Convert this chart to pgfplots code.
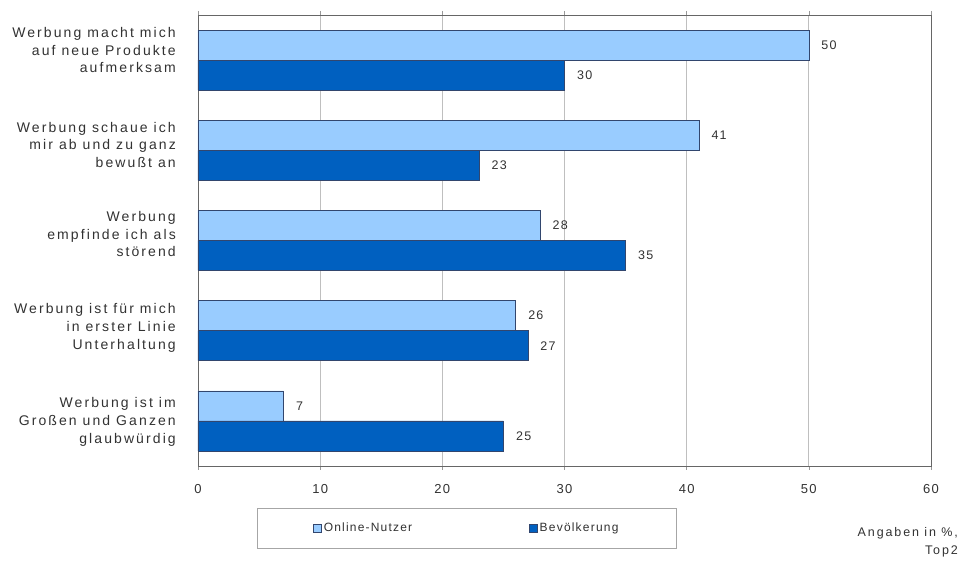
\documentclass[border=0pt]{standalone}
\usepackage{pgfplots}
\pgfplotsset{compat=1.18}
\usepackage{fontspec}
\setmainfont{Liberation Sans}[LetterSpace=10]
\newfontfamily\catfont{Liberation Sans}[LetterSpace=15]
\definecolor{lightb}{RGB}{153,204,255}
\definecolor{darkb}{RGB}{0,96,192}
\definecolor{edgeb}{RGB}{50,70,110}
\definecolor{txt}{RGB}{50,50,50}
\begin{document}
\begin{tikzpicture}[x=1pt,y=1pt]
\path[use as bounding box] (0,0) rectangle (962,567);
\begin{axis}[
  at={(198pt,101pt)}, anchor=south west,
  scale only axis, width=733pt, height=451pt,
  xbar, bar width=30pt,
  xmin=0, xmax=60, ymin=0.5, ymax=5.5,
  xtick={0,10,...,60},
  ytick={0.99,2.03,3.07,4.06,5.11},
  yticklabels={
    {Werbung ist im\\Großen und Ganzen\\glaubwürdig},
    {Werbung ist für mich\\in erster Linie\\Unterhaltung},
    {Werbung\\empfinde ich als\\störend},
    {Werbung schaue ich\\mir ab und zu ganz\\bewußt an},
    {Werbung macht mich\\auf neue Produkte\\aufmerksam}},
  yticklabel style={align=right, font=\catfont\fontsize{14}{17.8}\selectfont, text=txt, inner sep=0pt, xshift=-18pt},
  xticklabel style={font=\fontsize{13}{15}\selectfont, text=txt, yshift=-11pt},
  /pgf/number format/assume math mode=true,
  ytick style={draw=none},
  xtick style={draw=gray!80, thin},
  tick align=outside, major tick length=4pt,
  xmajorgrids, grid style={draw=gray!50, line width=0.8pt},
  axis line style={draw=gray!80!black, line width=0.9pt},
  nodes near coords,
  every node near coord/.append style={font=\fontsize{12.5}{14}\selectfont, text=txt, xshift=9pt},
  legend columns=2,
  legend style={at={(rel axis cs:0,0)}, anchor=north west, xshift=59pt, yshift=-42pt,
    draw=gray!70, line width=0.6pt, font=\fontsize{12}{14}\selectfont, text=txt,
    inner xsep=56pt, inner ysep=13pt,
    /tikz/every even column/.append style={column sep=115pt}},
  legend image code/.code={\draw[#1, line width=0.5pt] (1pt,-4pt) rectangle (9pt,4pt);},
]
\addplot[fill=lightb, draw=edgeb, line width=0.6pt, bar shift=15pt] coordinates {(7,1) (26,2) (28,3) (41,4) (50,5)};
\addplot[fill=darkb, draw=edgeb, line width=0.6pt, bar shift=-15pt] coordinates {(25,1) (27,2) (35,3) (23,4) (30,5)};
\legend{Online-Nutzer, Bevölkerung}
\end{axis}
\node[anchor=north east, align=right, font=\catfont\fontsize{12.5}{18}\selectfont, text=txt, inner sep=0pt] at (958,40) {Angaben in \%,\\Top2};
\end{tikzpicture}
\end{document}
